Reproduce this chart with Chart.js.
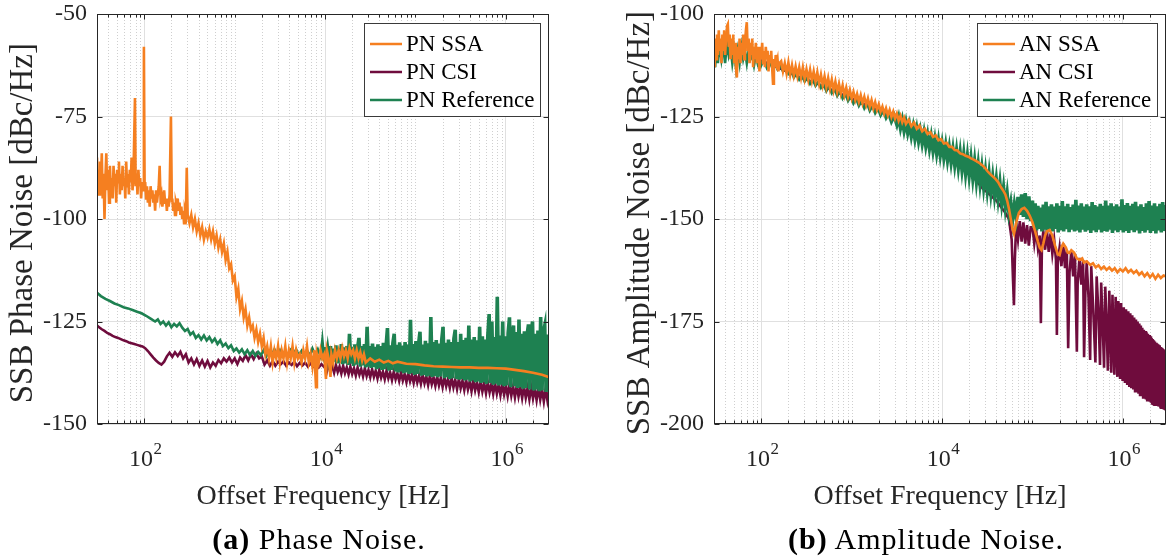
<!DOCTYPE html>
<html><head><meta charset="utf-8">
<script src="https://cdn.jsdelivr.net/npm/chart.js@4.4.1/dist/chart.umd.min.js"></script>
<style>
html,body{margin:0;padding:0;background:#fff;overflow:hidden;width:1166px;height:556px;position:relative;}
canvas{position:absolute;top:0;}
#c1{left:0;}
#c2{left:617px;}
.cap{position:absolute;top:521px;font-family:'Liberation Serif',serif;font-size:30px;line-height:36px;letter-spacing:1px;color:#000;white-space:nowrap;transform:translateX(-50%);}
</style></head><body>
<canvas id="c1" width="583" height="556"></canvas>
<canvas id="c2" width="560" height="556"></canvas>
<div class="cap" style="left:319px"><b>(a)</b> Phase Noise.</div>
<div class="cap" style="left:926px"><b>(b)</b> Amplitude Noise.</div>
<script>
// ---------- DATA (log10 frequency in Hz, level in dBc/Hz) ----------
const xMin = 30, xMax = 3e6;
const xTickValues = [1e2, 1e4, 1e6];
const xTickBase = '10';
const xTickExponents = ['2', '4', '6'];
const pnYTicks = [-150, -125, -100, -75, -50];
const anYTicks = [-200, -175, -150, -125, -100];
const pnLabels = ['PN SSA', 'PN CSI', 'PN Reference'];
const anLabels = ['AN SSA', 'AN CSI', 'AN Reference'];
const xTitle = 'Offset Frequency [Hz]';
const pnYTitle = 'SSB Phase Noise [dBc/Hz]\u00A0';
const anYTitle = 'SSB Amplitude Noise [dBc/Hz]\u00A0';

const pnSsa = [[1.477,-85],[1.485,-92],[1.49,-88],[1.5,-94],[1.51,-86],[1.52,-91],[1.53,-84],[1.54,-95],[1.55,-89],[1.56,-100],[1.57,-90],[1.58,-84],[1.59,-93],[1.6,-88],[1.61,-96],[1.62,-87],[1.63,-93],[1.64,-90],[1.65,-95],[1.66,-87],[1.67,-92],[1.68,-89],[1.69,-96],[1.7,-88],[1.71,-91],[1.72,-86],[1.73,-94],[1.74,-89],[1.75,-93],[1.76,-87],[1.77,-92],[1.78,-90],[1.79,-95],[1.8,-86],[1.81,-92],[1.82,-89],[1.83,-94],[1.84,-88],[1.85,-91],[1.86,-85],[1.87,-93],[1.88,-90],[1.897,-70.5],[1.905,-92],[1.915,-89],[1.925,-94],[1.935,-88],[1.945,-92],[1.955,-90],[1.965,-95],[1.975,-91],[1.988,-93],[1.996,-58],[2.004,-93],[2.01,-91],[2.02,-95],[2.03,-92],[2.04,-96],[2.05,-93],[2.06,-97],[2.07,-92],[2.08,-95],[2.09,-93],[2.1,-96],[2.11,-94],[2.12,-98],[2.13,-93],[2.14,-96],[2.15,-94],[2.16,-92],[2.17,-87],[2.18,-95],[2.19,-94],[2.2,-97],[2.21,-95],[2.22,-93],[2.23,-96],[2.24,-95],[2.25,-98],[2.26,-95],[2.27,-97],[2.28,-94],[2.295,-75],[2.305,-96],[2.31,-95],[2.32,-98],[2.33,-96],[2.34,-99],[2.35,-96],[2.36,-97],[2.37,-95],[2.38,-98],[2.39,-96],[2.4,-99],[2.41,-97],[2.42,-100],[2.43,-98],[2.44,-101],[2.45,-98],[2.46,-99],[2.47,-87.5],[2.48,-99],[2.5,-101],[2.52,-99],[2.54,-102],[2.56,-100],[2.58,-103],[2.6,-101],[2.62,-104],[2.64,-102],[2.66,-105],[2.68,-103],[2.7,-104.5],[2.72,-102.5],[2.74,-105],[2.76,-103],[2.78,-106],[2.8,-104],[2.82,-107],[2.84,-105],[2.86,-108],[2.88,-106],[2.9,-110],[2.92,-108],[2.94,-112],[2.96,-111],[2.98,-115],[3.0,-114],[3.02,-119],[3.04,-117],[3.06,-122],[3.08,-120],[3.1,-124],[3.12,-122],[3.14,-126],[3.16,-124],[3.18,-127],[3.2,-126],[3.22,-129],[3.24,-127],[3.26,-130],[3.28,-128],[3.3,-131],[3.32,-129],[3.34,-133],[3.36,-131],[3.38,-134],[3.4,-131],[3.42,-135],[3.44,-132],[3.46,-134],[3.48,-131],[3.5,-135],[3.52,-132],[3.54,-134],[3.56,-131],[3.58,-135],[3.6,-132],[3.62,-134],[3.64,-131],[3.66,-135],[3.68,-132],[3.7,-134],[3.72,-133],[3.74,-135],[3.76,-132],[3.78,-134],[3.8,-131],[3.82,-135],[3.84,-133],[3.86,-136],[3.88,-132],[3.9,-141],[3.91,-133],[3.93,-135],[3.95,-132],[3.97,-134],[3.99,-133],[4.01,-139],[4.02,-132],[4.04,-134],[4.06,-138.5],[4.07,-133],[4.09,-135],[4.11,-132],[4.13,-134],[4.15,-132],[4.17,-134],[4.19,-131.5],[4.21,-133.5],[4.23,-132],[4.25,-134],[4.27,-131.5],[4.29,-133],[4.31,-132],[4.33,-134],[4.35,-132],[4.37,-134],[4.39,-132.5],[4.41,-134.5],[4.43,-133],[4.45,-135],[4.5,-134],[4.55,-134.8],[4.6,-134.3],[4.65,-135],[4.7,-134.6],[4.75,-135.2],[4.8,-134.8],[4.9,-135.3],[5.0,-135.4],[5.1,-135.7],[5.2,-135.9],[5.3,-136],[5.4,-136.1],[5.5,-136.2],[5.6,-136.2],[5.7,-136.3],[5.8,-136.3],[5.9,-136.4],[6.0,-136.5],[6.1,-136.8],[6.2,-137.1],[6.3,-137.5],[6.4,-138],[6.48,-138.6]];

const pnCsi = [[1.477,-126],[1.5,-126.4],[1.53,-126.9],[1.56,-127.3],[1.59,-127.8],[1.62,-128.1],[1.65,-128.5],[1.68,-128.8],[1.71,-129],[1.74,-129.3],[1.77,-129.6],[1.8,-129.8],[1.83,-130.1],[1.86,-130.3],[1.89,-130.5],[1.92,-130.7],[1.95,-130.9],[1.98,-131.1],[2.01,-131.5],[2.04,-132.2],[2.07,-133],[2.1,-133.8],[2.13,-134.5],[2.16,-135.1],[2.19,-135.5],[2.22,-134.8],[2.25,-133.5],[2.28,-132.6],[2.31,-133.6],[2.34,-132.5],[2.37,-133.4],[2.4,-132.4],[2.43,-134],[2.46,-133],[2.49,-135],[2.52,-134],[2.55,-135.5],[2.58,-134.2],[2.61,-135.8],[2.64,-134.5],[2.67,-136],[2.7,-134.6],[2.73,-136.2],[2.76,-135],[2.79,-135.8],[2.82,-134.4],[2.85,-135.2],[2.88,-134],[2.91,-134.8],[2.94,-133.8],[2.97,-135],[3.0,-134],[3.03,-135.4],[3.06,-133.8],[3.09,-134.6],[3.12,-133.2],[3.15,-134.5],[3.18,-133],[3.21,-134.2],[3.24,-132.8],[3.27,-134],[3.3,-133.5],[3.33,-135.5],[3.36,-134.5],[3.39,-135.8],[3.42,-134.6],[3.45,-135.8],[3.48,-134.8],[3.51,-135.4],[3.54,-134.7],[3.57,-135.8],[3.6,-135],[3.63,-135.6],[3.66,-134.8],[3.69,-135.9],[3.72,-135.1],[3.75,-135.7],[3.78,-135],[3.81,-136],[3.84,-135.2],[3.87,-136],[3.9,-135.3],[3.93,-136.2],[3.96,-135.4],[3.99,-136.1],[4.0,-135.8],[4.02,-137.2],[4.04,-135.4],[4.06,-137],[4.08,-135.9],[4.1,-137.5],[4.12,-135.6],[4.14,-137.3],[4.16,-136],[4.18,-137.7],[4.2,-135.8],[4.22,-137.6],[4.24,-136.2],[4.26,-137.9],[4.28,-136],[4.3,-137.8],[4.32,-136.4],[4.34,-138.2],[4.36,-136.2],[4.38,-138],[4.4,-136.6],[4.42,-138.4],[4.44,-136.4],[4.46,-138.3],[4.48,-136.8],[4.5,-138.6],[4.52,-136.6],[4.54,-138.5],[4.56,-137],[4.58,-138.9],[4.6,-136.8],[4.62,-138.7],[4.64,-137.2],[4.66,-139.1],[4.68,-137],[4.7,-138.9],[4.72,-137.4],[4.74,-139.3],[4.76,-137.2],[4.78,-139.1],[4.8,-137.6],[4.82,-139.5],[4.84,-137.4],[4.86,-139.4],[4.88,-137.8],[4.9,-139.8],[4.92,-137.6],[4.94,-139.6],[4.96,-138],[4.98,-140],[5.0,-137.8],[5.02,-139.9],[5.04,-138.2],[5.06,-140.2],[5.08,-138],[5.1,-140.1],[5.12,-138.4],[5.14,-140.5],[5.16,-138.2],[5.18,-140.3],[5.2,-138.6],[5.22,-140.7],[5.24,-138.4],[5.26,-140.6],[5.28,-138.8],[5.3,-141],[5.32,-138.6],[5.34,-140.8],[5.36,-139],[5.38,-141.2],[5.4,-138.8],[5.42,-141.1],[5.44,-139.2],[5.46,-141.5],[5.48,-139],[5.5,-141.3],[5.52,-139.4],[5.54,-141.7],[5.56,-139.2],[5.58,-141.6],[5.6,-139.6],[5.62,-142],[5.64,-139.4],[5.66,-141.8],[5.68,-139.8],[5.7,-142.2],[5.72,-139.6],[5.74,-142.1],[5.76,-140],[5.78,-142.5],[5.8,-139.8],[5.82,-142.3],[5.84,-140.2],[5.86,-142.7],[5.88,-140],[5.9,-142.6],[5.92,-140.4],[5.94,-143],[5.96,-140.2],[5.98,-142.8],[6.0,-140.6],[6.02,-143.2],[6.04,-140.4],[6.06,-143.1],[6.08,-140.8],[6.1,-143.5],[6.12,-140.6],[6.14,-143.3],[6.16,-141],[6.18,-143.7],[6.2,-140.8],[6.22,-143.6],[6.24,-141.2],[6.26,-144],[6.28,-141],[6.3,-143.8],[6.32,-141.4],[6.34,-144.2],[6.36,-141.2],[6.38,-144.1],[6.4,-141.6],[6.42,-144.5],[6.44,-141.4],[6.46,-144.3],[6.48,-141.8]];

const pnRef = [[1.477,-118],[1.52,-118.8],[1.57,-119.5],[1.62,-120],[1.67,-120.6],[1.72,-121],[1.77,-121.5],[1.82,-121.8],[1.87,-122.2],[1.92,-122.6],[1.97,-123],[2.02,-123.6],[2.07,-124.3],[2.12,-125],[2.15,-124.5],[2.18,-125.6],[2.21,-125],[2.24,-126],[2.27,-125.2],[2.3,-126.4],[2.33,-125.6],[2.36,-126.2],[2.39,-125.4],[2.42,-126.5],[2.45,-127.3],[2.48,-126.8],[2.51,-128.2],[2.54,-127.6],[2.57,-129],[2.6,-128.3],[2.63,-129.4],[2.66,-128.4],[2.69,-129.6],[2.72,-128.8],[2.75,-130],[2.78,-129.2],[2.81,-130.5],[2.84,-129.6],[2.87,-131],[2.9,-130.4],[2.93,-131.5],[2.96,-130.8],[2.99,-132.2],[3.02,-131.6],[3.05,-132.6],[3.08,-131.8],[3.11,-133],[3.14,-132],[3.17,-133.2],[3.2,-132.2],[3.23,-133.4],[3.26,-132.4],[3.29,-133.2],[3.32,-132],[3.35,-133.5],[3.38,-132.3],[3.41,-133.2],[3.44,-131.8],[3.47,-133],[3.5,-132],[3.53,-133.4],[3.56,-132.2],[3.59,-133.5],[3.62,-132],[3.65,-133],[3.68,-131.8],[3.71,-133.3],[3.74,-132.2],[3.77,-133.6],[3.8,-132],[3.83,-133.4],[3.86,-131.6],[3.89,-133.2],[3.92,-131.8],[3.95,-133.5],[3.97,-129.5],[3.985,-133],[4.0,-131.2],[4.015,-134.6],[4.03,-131.8],[4.045,-134.3],[4.06,-131],[4.075,-135],[4.09,-131.6],[4.105,-134.8],[4.12,-130.8],[4.135,-135.2],[4.15,-131.5],[4.165,-135],[4.18,-130.5],[4.195,-135.4],[4.21,-131.3],[4.225,-135.2],[4.24,-131],[4.255,-135.6],[4.27,-128],[4.285,-135.3],[4.3,-131.2],[4.315,-135.8],[4.33,-130.6],[4.345,-135.5],[4.36,-131.4],[4.375,-129],[4.39,-136],[4.405,-131],[4.42,-135.7],[4.435,-130.5],[4.45,-136.2],[4.465,-126.3],[4.48,-136],[4.495,-131],[4.51,-136.3],[4.525,-130.4],[4.54,-136.1],[4.555,-131.2],[4.57,-136.6],[4.585,-130.6],[4.6,-136.4],[4.615,-131],[4.63,-136.8],[4.645,-130.2],[4.66,-136.6],[4.675,-131],[4.69,-126.6],[4.705,-137],[4.72,-130.8],[4.735,-136.8],[4.75,-130.3],[4.765,-128],[4.78,-137.2],[4.795,-130.7],[4.81,-137.4],[4.825,-130.1],[4.84,-137.2],[4.855,-130.9],[4.87,-137.6],[4.885,-130],[4.9,-137.4],[4.915,-130.6],[4.93,-137.8],[4.945,-124.6],[4.96,-137.6],[4.975,-130.5],[4.99,-138],[5.005,-129.8],[5.02,-137.8],[5.035,-130.4],[5.05,-127.5],[5.065,-138.2],[5.08,-130.6],[5.095,-138],[5.11,-129.7],[5.125,-138.4],[5.14,-130.3],[5.155,-138.2],[5.17,-123.9],[5.185,-138.5],[5.2,-130],[5.215,-138.3],[5.23,-129.5],[5.245,-138.6],[5.26,-130.4],[5.275,-138.4],[5.29,-129.6],[5.305,-126.3],[5.32,-138.8],[5.335,-130.2],[5.35,-138.6],[5.365,-129.4],[5.38,-139],[5.395,-130],[5.41,-138.8],[5.425,-129.2],[5.44,-127],[5.455,-139],[5.47,-130],[5.485,-139.2],[5.5,-128],[5.515,-139],[5.53,-129.5],[5.545,-139.4],[5.56,-129],[5.575,-139.2],[5.59,-126],[5.605,-139.6],[5.62,-129.4],[5.635,-139.4],[5.65,-128.8],[5.665,-139.8],[5.68,-129.6],[5.695,-139.6],[5.71,-126.3],[5.725,-140],[5.74,-128.6],[5.755,-139.8],[5.77,-129.4],[5.785,-140.2],[5.8,-128.5],[5.815,-123.2],[5.83,-140],[5.845,-125],[5.86,-140.4],[5.875,-128.8],[5.89,-140.2],[5.905,-119],[5.92,-140.6],[5.935,-128.4],[5.95,-140.4],[5.965,-125],[5.98,-140.8],[5.995,-128.6],[6.01,-140.6],[6.025,-127.8],[6.04,-124],[6.055,-141],[6.07,-128.4],[6.085,-126],[6.1,-140.8],[6.115,-127.6],[6.13,-141.2],[6.145,-124.5],[6.16,-141],[6.175,-128],[6.19,-141.4],[6.205,-127.4],[6.22,-141.2],[6.235,-128.2],[6.25,-125.7],[6.265,-141.6],[6.28,-127.6],[6.295,-125],[6.31,-141.8],[6.325,-128],[6.34,-141.6],[6.355,-127.2],[6.37,-142],[6.385,-123.9],[6.4,-141.8],[6.415,-127.6],[6.43,-126],[6.445,-142.2],[6.46,-128.2],[6.475,-142]];

const anSsa = [[1.477,-108],[1.485,-113],[1.49,-106],[1.5,-111],[1.51,-105],[1.52,-110],[1.53,-104],[1.54,-109],[1.55,-106],[1.56,-112],[1.57,-105],[1.58,-109],[1.59,-104],[1.6,-110],[1.61,-106],[1.62,-103],[1.63,-102.5],[1.64,-108],[1.65,-105],[1.66,-111],[1.67,-106],[1.68,-110],[1.69,-105],[1.7,-112],[1.71,-107],[1.72,-113],[1.73,-115.5],[1.74,-108],[1.75,-111],[1.76,-106],[1.77,-112],[1.78,-107],[1.79,-110],[1.8,-105],[1.81,-111],[1.82,-107],[1.83,-104],[1.84,-102],[1.85,-109],[1.86,-106],[1.87,-112],[1.88,-107],[1.89,-110],[1.9,-106],[1.91,-113],[1.92,-108],[1.93,-111],[1.94,-107],[1.95,-112],[1.96,-108],[1.97,-110],[1.98,-114],[1.99,-108],[2.0,-111],[2.01,-107],[2.02,-112],[2.03,-109],[2.04,-113],[2.05,-108],[2.06,-111],[2.07,-109],[2.08,-114],[2.09,-110],[2.1,-112],[2.11,-109],[2.12,-113],[2.13,-117],[2.14,-111],[2.15,-113],[2.16,-110],[2.17,-112],[2.18,-111],[2.19,-114],[2.2,-112],[2.22,-111.5],[2.24,-114],[2.26,-112],[2.28,-114.5],[2.3,-111.8],[2.32,-114.8],[2.34,-112.5],[2.36,-115],[2.38,-112.8],[2.4,-115.2],[2.42,-113],[2.44,-115.5],[2.46,-113],[2.48,-115.8],[2.5,-113.5],[2.52,-116],[2.54,-113.6],[2.56,-116.3],[2.58,-114],[2.6,-116.5],[2.62,-114.2],[2.64,-117],[2.66,-114.8],[2.68,-117.4],[2.7,-115.2],[2.72,-117.8],[2.74,-115.6],[2.76,-118.2],[2.78,-116],[2.8,-118.6],[2.82,-116.5],[2.84,-119],[2.86,-117],[2.88,-119.4],[2.9,-117.4],[2.92,-119.8],[2.94,-118],[2.96,-120.2],[2.98,-118.5],[3.0,-120.6],[3.02,-119],[3.04,-121],[3.06,-119.5],[3.08,-121.4],[3.1,-119.8],[3.12,-121.8],[3.14,-120.2],[3.16,-122.2],[3.18,-120.6],[3.2,-122.6],[3.22,-121],[3.24,-123],[3.26,-121.5],[3.28,-123.4],[3.3,-122],[3.32,-123.8],[3.34,-122.6],[3.36,-124.3],[3.38,-123],[3.4,-124.7],[3.42,-123.4],[3.44,-125.1],[3.46,-123.8],[3.48,-125.5],[3.5,-124.3],[3.52,-126],[3.54,-124.8],[3.56,-126.4],[3.58,-125.3],[3.6,-126.8],[3.63,-125.8],[3.66,-127.4],[3.69,-126.5],[3.72,-128],[3.75,-127.2],[3.78,-128.6],[3.81,-128],[3.84,-129.3],[3.87,-128.8],[3.9,-130],[3.93,-129.6],[3.96,-130.8],[3.99,-130.5],[4.02,-131.6],[4.05,-131.4],[4.08,-132.4],[4.11,-132.4],[4.14,-133.2],[4.17,-133.3],[4.2,-134],[4.23,-134.2],[4.26,-134.6],[4.29,-134.8],[4.32,-135.2],[4.35,-135.5],[4.38,-135.9],[4.41,-136.3],[4.44,-136.8],[4.47,-137.4],[4.5,-138.3],[4.53,-139],[4.56,-139.6],[4.59,-140.2],[4.62,-141],[4.65,-142.2],[4.68,-143.2],[4.7,-144],[4.72,-145.5],[4.74,-147.5],[4.76,-150],[4.78,-152.5],[4.796,-153.6],[4.81,-152],[4.83,-150],[4.85,-148.5],[4.88,-147.6],[4.91,-147.3],[4.94,-148],[4.97,-149.2],[5.0,-150.8],[5.03,-153],[5.06,-155.5],[5.08,-157],[5.1,-157.6],[5.12,-156],[5.14,-154],[5.16,-153],[5.19,-152.7],[5.22,-154],[5.25,-156.5],[5.28,-158.6],[5.3,-158.8],[5.32,-157],[5.34,-156],[5.37,-157],[5.39,-158.2],[5.41,-158.3],[5.43,-157.6],[5.46,-158.2],[5.49,-159.6],[5.52,-160],[5.55,-159.6],[5.57,-160.6],[5.6,-160.3],[5.64,-161.2],[5.67,-160.8],[5.7,-161.8],[5.73,-161.3],[5.76,-162.2],[5.79,-161.6],[5.82,-162.4],[5.85,-161.8],[5.88,-162.6],[5.91,-162],[5.94,-163],[5.97,-162.2],[6.0,-162.8],[6.03,-162],[6.06,-163],[6.09,-162.4],[6.12,-163.2],[6.15,-162.6],[6.18,-163.6],[6.21,-163],[6.24,-164],[6.27,-163.2],[6.3,-164.2],[6.33,-163.4],[6.36,-164.6],[6.39,-163.6],[6.42,-164.4],[6.45,-163.8],[6.48,-164]];

const anCsi = [[1.477,-111],[1.55,-110],[1.62,-109.5],[1.7,-110.5],[1.78,-110],[1.86,-110.5],[1.94,-111],[2.02,-111.5],[2.1,-112.3],[2.2,-113.2],[2.3,-114.2],[2.4,-115.2],[2.5,-116],[2.6,-116.8],[2.7,-117.8],[2.8,-118.7],[2.9,-119.7],[3.0,-120.6],[3.1,-121.6],[3.2,-122.6],[3.3,-123.6],[3.4,-124.6],[3.5,-125.8],[3.6,-127.2],[3.7,-128.6],[3.8,-130],[3.9,-131.5],[4.0,-133],[4.1,-134.5],[4.2,-136],[4.25,-137],[4.3,-138],[4.35,-139.8],[4.4,-141.2],[4.45,-142.6],[4.5,-143.5],[4.55,-144.5],[4.6,-145.5],[4.65,-147],[4.7,-148.5],[4.74,-150],[4.77,-155],[4.785,-165],[4.795,-171],[4.805,-160],[4.82,-151],[4.84,-155],[4.86,-150.5],[4.88,-155.5],[4.9,-150.8],[4.92,-156],[4.94,-151.5],[4.96,-156.5],[4.98,-152],[5.0,-152],[5.02,-156],[5.04,-152.5],[5.06,-157],[5.08,-154],[5.093,-175.4],[5.105,-156],[5.12,-153],[5.14,-157.5],[5.16,-152.8],[5.18,-158],[5.2,-153.5],[5.22,-158.5],[5.24,-155],[5.26,-160],[5.27,-178.3],[5.28,-160.5],[5.3,-157],[5.32,-161.5],[5.34,-156],[5.36,-162],[5.38,-157.5],[5.395,-181.5],[5.41,-163],[5.43,-157.8],[5.45,-164],[5.47,-158.5],[5.491,-182.4],[5.5,-165.5],[5.52,-159.5],[5.54,-166],[5.56,-160],[5.571,-183.7],[5.585,-168],[5.6,-160.5],[5.62,-169],[5.638,-184.4],[5.65,-161.5],[5.67,-171],[5.696,-185],[5.71,-164],[5.73,-173],[5.747,-185.6],[5.76,-165.5],[5.775,-174.5],[5.792,-186.3],[5.805,-166.5],[5.82,-175.5],[5.834,-187],[5.85,-167.5],[5.872,-187.5],[5.885,-168.5],[5.895,-178],[5.906,-188],[5.92,-169],[5.939,-188.5],[5.95,-170],[5.969,-189],[5.98,-170.5],[5.997,-189.5],[6.01,-171.5],[6.023,-190],[6.035,-172],[6.048,-190.5],[6.06,-172.5],[6.071,-191],[6.082,-173],[6.093,-191.3],[6.104,-173.5],[6.115,-191.6],[6.125,-174],[6.135,-192],[6.145,-174.5],[6.154,-192.3],[6.163,-175],[6.173,-192.6],[6.182,-175.5],[6.19,-192.9],[6.199,-176],[6.207,-193.2],[6.215,-176.5],[6.224,-193.5],[6.232,-177],[6.239,-193.7],[6.247,-177.3],[6.255,-194],[6.262,-177.6],[6.269,-194.2],[6.277,-178],[6.284,-194.4],[6.291,-178.3],[6.298,-194.6],[6.305,-178.6],[6.311,-194.8],[6.318,-179],[6.324,-195],[6.331,-179.3],[6.337,-195.1],[6.343,-179.6],[6.349,-195.3],[6.355,-179.9],[6.361,-195.4],[6.367,-180.2],[6.372,-195.5],[6.378,-180.4],[6.383,-195.6],[6.389,-180.6],[6.394,-195.7],[6.4,-180.8],[6.405,-195.8],[6.41,-181],[6.416,-195.9],[6.421,-181.2],[6.426,-196],[6.431,-181.4],[6.436,-196],[6.441,-181.6],[6.446,-196.1],[6.45,-181.8],[6.455,-196.2],[6.46,-182],[6.464,-196.3],[6.47,-182.2],[6.475,-196.4],[6.48,-182.3]];

const anRef = [[1.477,-110],[1.49,-113],[1.5,-108],[1.52,-112],[1.54,-107],[1.56,-111],[1.58,-108],[1.6,-112],[1.62,-107],[1.64,-110],[1.66,-108],[1.68,-112],[1.7,-109],[1.72,-113],[1.74,-109],[1.76,-112],[1.78,-108],[1.8,-111],[1.82,-109],[1.84,-112],[1.86,-109],[1.88,-111],[1.9,-110],[1.92,-112.5],[1.94,-110],[1.96,-112],[1.98,-110.5],[2.0,-112.5],[2.03,-111],[2.06,-113],[2.09,-111.5],[2.12,-113],[2.15,-112],[2.18,-113.5],[2.21,-112.5],[2.24,-114],[2.27,-113],[2.3,-114.5],[2.33,-113.5],[2.36,-115.5],[2.39,-114.5],[2.42,-116],[2.45,-115],[2.48,-116.5],[2.51,-115.5],[2.54,-117],[2.57,-116],[2.6,-117.5],[2.63,-116.5],[2.66,-118],[2.69,-117],[2.72,-118.8],[2.75,-117.6],[2.78,-119.3],[2.81,-118.2],[2.84,-120],[2.87,-118.8],[2.9,-120.6],[2.93,-119.4],[2.96,-121.2],[2.99,-120],[3.02,-121.8],[3.05,-120.6],[3.08,-122.4],[3.11,-121.2],[3.14,-123],[3.17,-121.8],[3.2,-123.6],[3.23,-122.4],[3.26,-124.2],[3.29,-123],[3.32,-124.8],[3.35,-123.6],[3.38,-125.5],[3.41,-124.2],[3.44,-126.2],[3.47,-124.8],[3.5,-127],[3.52,-125.2],[3.54,-127.8],[3.56,-125.8],[3.58,-128.5],[3.6,-126.4],[3.62,-129],[3.64,-127],[3.66,-129.8],[3.68,-127.5],[3.7,-130.5],[3.72,-128],[3.74,-131],[3.76,-128.6],[3.78,-131.6],[3.8,-129],[3.82,-132.2],[3.84,-129.6],[3.86,-132.8],[3.88,-130],[3.9,-133.4],[3.92,-130.6],[3.94,-134],[3.96,-131],[3.98,-134.5],[4.0,-131.6],[4.02,-135],[4.04,-132],[4.06,-135.6],[4.08,-132.6],[4.1,-136.2],[4.12,-133],[4.14,-136.8],[4.16,-133.4],[4.18,-137.4],[4.2,-133.8],[4.22,-138],[4.24,-134.2],[4.26,-138.8],[4.28,-134.8],[4.3,-139.4],[4.32,-135.4],[4.34,-140],[4.36,-136],[4.38,-140.8],[4.4,-136.8],[4.42,-141.4],[4.44,-137.6],[4.46,-142.2],[4.48,-138.4],[4.5,-143],[4.52,-139],[4.54,-143.6],[4.56,-139.8],[4.58,-144.2],[4.6,-140.4],[4.62,-145],[4.64,-141.2],[4.66,-146],[4.68,-142.4],[4.7,-147.2],[4.72,-143.8],[4.74,-148.5],[4.76,-146],[4.78,-150.2],[4.8,-146.5],[4.82,-149.5],[4.84,-144.6],[4.86,-149],[4.88,-144],[4.9,-149.5],[4.92,-143.7],[4.94,-150],[4.96,-144.5],[4.98,-150.5],[5.0,-145.5],[5.015,-152.2],[5.03,-146.2],[5.045,-152.8],[5.06,-146.8],[5.075,-152.4],[5.09,-147.2],[5.105,-153],[5.12,-146.5],[5.135,-152.6],[5.15,-145.8],[5.165,-153.2],[5.18,-146.9],[5.195,-152.5],[5.21,-146.4],[5.225,-153],[5.24,-147],[5.255,-152.4],[5.27,-146.2],[5.285,-153.3],[5.3,-146.8],[5.315,-152.7],[5.33,-145.6],[5.345,-153],[5.36,-146.9],[5.375,-152.5],[5.39,-146.3],[5.405,-153.2],[5.42,-147.1],[5.435,-152.6],[5.45,-146.5],[5.465,-153],[5.48,-145.3],[5.495,-152.8],[5.51,-146.7],[5.525,-153.3],[5.54,-146.2],[5.555,-152.6],[5.57,-147],[5.585,-153.1],[5.6,-146.4],[5.615,-152.7],[5.63,-146.9],[5.645,-153.4],[5.66,-145.9],[5.675,-152.8],[5.69,-146.6],[5.705,-153.2],[5.72,-147],[5.735,-152.6],[5.75,-146.3],[5.765,-153.3],[5.78,-146.8],[5.795,-152.9],[5.81,-145.5],[5.825,-153.1],[5.84,-146.7],[5.855,-152.6],[5.87,-146.2],[5.885,-153.4],[5.9,-146.9],[5.915,-152.8],[5.93,-146.4],[5.945,-153.2],[5.96,-147],[5.975,-152.7],[5.99,-145.2],[6.005,-153.3],[6.02,-146.6],[6.035,-152.9],[6.05,-146.1],[6.065,-153.4],[6.08,-146.8],[6.095,-152.7],[6.11,-146.3],[6.125,-153.2],[6.14,-145.8],[6.155,-152.8],[6.17,-146.9],[6.185,-153.5],[6.2,-146.4],[6.215,-152.9],[6.23,-147.1],[6.245,-153.3],[6.26,-146.2],[6.275,-152.7],[6.29,-145.6],[6.305,-153.4],[6.32,-146.7],[6.335,-152.9],[6.35,-146.2],[6.365,-153.5],[6.38,-146.9],[6.395,-152.8],[6.41,-146.3],[6.425,-153.3],[6.44,-145.9],[6.455,-152.9],[6.47,-146.6],[6.48,-153]];

// ---------- STYLE ----------
const seriesColors = ['#f57f20', '#6f0c3d', '#1e8151'];
const drawOrder = [0, 2, 1]; // SSA on top, Reference middle, CSI bottom
const pnDenseFrom = [1e12, 1e12, 1e4];   // frequency above which a trace is a dense noise band
const anDenseFrom = [1e12, 1e12, 2.5e3];
const serif = "'Liberation Serif', 'Times New Roman', serif";
const axisInk = '#262626';

// minor decade positions (k * 10^n) used for dotted minor grid / minor ticks
const minorX = [];
for (let e = 1; e <= 6; e++) {
  for (let k = 1; k <= 9; k++) {
    const v = k * Math.pow(10, e);
    if (v > xMin && v < xMax && xTickValues.indexOf(v) < 0) minorX.push(v);
  }
}

const toXY = arr => arr.map(p => ({ x: Math.pow(10, p[0]), y: p[1] }));

const axesPlugin = {
  id: 'matlabAxes',
  beforeDatasetsDraw(chart) {
    const { ctx, chartArea: a, scales: { x } } = chart;
    ctx.save();
    ctx.strokeStyle = '#cfcfcf';
    ctx.lineWidth = 1;
    ctx.setLineDash([1, 2]);
    minorX.forEach(v => {
      const p = Math.round(x.getPixelForValue(v)) + 0.5;
      ctx.beginPath(); ctx.moveTo(p, a.top); ctx.lineTo(p, a.bottom); ctx.stroke();
    });
    ctx.restore();
  },
  afterDraw(chart) {
    const { ctx, chartArea: a, scales: { x, y } } = chart;
    ctx.save();
    ctx.strokeStyle = axisInk;
    ctx.lineWidth = 1;
    const L = Math.round(a.left) + 0.5, R = Math.round(a.right) - 0.5;
    const T = Math.round(a.top) + 0.5, B = Math.round(a.bottom) - 0.5;
    ctx.strokeRect(L, T, R - L, B - T);
    ctx.beginPath();
    x.ticks.forEach(t => {
      const p = Math.round(x.getPixelForValue(t.value)) + 0.5;
      ctx.moveTo(p, B); ctx.lineTo(p, B - 5); ctx.moveTo(p, T); ctx.lineTo(p, T + 5);
    });
    minorX.forEach(v => {
      const p = Math.round(x.getPixelForValue(v)) + 0.5;
      ctx.moveTo(p, B); ctx.lineTo(p, B - 3); ctx.moveTo(p, T); ctx.lineTo(p, T + 3);
    });
    y.ticks.forEach(t => {
      const p = Math.round(y.getPixelForValue(t.value)) + 0.5;
      ctx.moveTo(L, p); ctx.lineTo(L + 5, p); ctx.moveTo(R, p); ctx.lineTo(R - 5, p);
    });
    ctx.stroke();
    // decade tick labels: base "10" with a raised exponent, positioned by the x scale
    ctx.fillStyle = axisInk;
    ctx.textBaseline = 'alphabetic';
    ctx.textAlign = 'left';
    x.ticks.forEach(t => {
      const i = xTickValues.indexOf(t.value);
      if (i < 0) return;
      const p = x.getPixelForValue(t.value);
      ctx.font = '24px ' + serif;
      const wb = ctx.measureText(xTickBase).width;
      ctx.font = '17px ' + serif;
      const we = ctx.measureText(xTickExponents[i]).width;
      const x0 = p - (wb + we) / 2 + 1;
      ctx.font = '24px ' + serif;
      ctx.fillText(xTickBase, x0, a.bottom + 42);
      ctx.font = '17px ' + serif;
      ctx.fillText(xTickExponents[i], x0 + wb + 0.5, a.bottom + 30);
    });
    ctx.restore();
  }
};

const legendPlugin = {
  id: 'boxLegend',
  afterDatasetsDraw(chart) {
    const { ctx, chartArea: a } = chart;
    const ds = chart.data.datasets;
    ctx.save();
    ctx.font = '23px ' + serif;
    const tw = Math.max.apply(null, ds.map(d => ctx.measureText(d.label).width));
    const w = Math.round(42 + tw + 6), h = 93;
    const x0 = Math.round(a.right - 9 - w), y0 = Math.round(a.top + 9);
    ctx.fillStyle = '#fff';
    ctx.fillRect(x0, y0, w, h);
    ctx.strokeStyle = '#3a3a3a'; ctx.lineWidth = 1;
    ctx.strokeRect(x0 + 0.5, y0 + 0.5, w, h);
    ds.forEach((d, i) => {
      const yy = y0 + 21 + i * 28;
      ctx.strokeStyle = d.borderColor; ctx.lineWidth = 2.5;
      ctx.beginPath(); ctx.moveTo(x0 + 6, yy); ctx.lineTo(x0 + 38, yy); ctx.stroke();
      ctx.fillStyle = '#000'; ctx.textAlign = 'left'; ctx.textBaseline = 'middle';
      ctx.fillText(d.label, x0 + 42, yy + 1);
    });
    ctx.restore();
  }
};

function makeChart(id, series, labels, denseFrom, yTicks, yTitle, padRight) {
  const datasets = series.map((s, i) => ({
    label: labels[i], data: toXY(s), borderColor: seriesColors[i], backgroundColor: seriesColors[i],
    borderWidth: 2.6, pointRadius: 0, tension: 0, fill: false, order: drawOrder[i],
    segment: { borderWidth: c => (c.p0.parsed.x >= denseFrom[i] ? 3.6 : 2.6) }
  }));
  return new Chart(document.getElementById(id), {
    type: 'line',
    data: { datasets },
    options: {
      responsive: false, animation: false, devicePixelRatio: 1,
      layout: { padding: { top: 14, right: padRight, bottom: 0, left: 0 } },
      plugins: { legend: { display: false }, tooltip: { enabled: false } },
      scales: {
        x: {
          type: 'logarithmic', min: xMin, max: xMax,
          afterBuildTicks: sc => { sc.ticks = xTickValues.map(v => ({ value: v, major: true })); },
          afterFit: sc => { sc.height = 132; sc.paddingLeft = 0; sc.paddingRight = 0; },
          ticks: { display: false, autoSkip: false, maxRotation: 0, minRotation: 0 },
          grid: { color: '#e0e0e0', lineWidth: 1, drawTicks: false },
          border: { display: false },
          title: { display: true, text: xTitle, color: axisInk, font: { family: serif, size: 28 }, padding: { top: 0, bottom: 43 } }
        },
        y: {
          min: yTicks[0], max: yTicks[yTicks.length - 1],
          afterBuildTicks: sc => { sc.ticks = yTicks.map(v => ({ value: v })); },
          afterFit: sc => { sc.width = 97; sc.paddingTop = 0; sc.paddingBottom = 0; },
          ticks: { padding: 10, color: axisInk, font: { family: serif, size: 24 }, callback: v => String(v) },
          grid: { color: '#e0e0e0', lineWidth: 1, drawTicks: false },
          border: { display: false },
          title: { display: true, text: yTitle, color: axisInk, font: { family: serif, size: 33 }, padding: { top: 4, bottom: 0 } }
        }
      }
    },
    plugins: [axesPlugin, legendPlugin]
  });
}

makeChart('c1', [pnSsa, pnCsi, pnRef], pnLabels, pnDenseFrom, pnYTicks, pnYTitle, 34);
makeChart('c2', [anSsa, anCsi, anRef], anLabels, anDenseFrom, anYTicks, anYTitle, 11);
</script>
</body></html>
